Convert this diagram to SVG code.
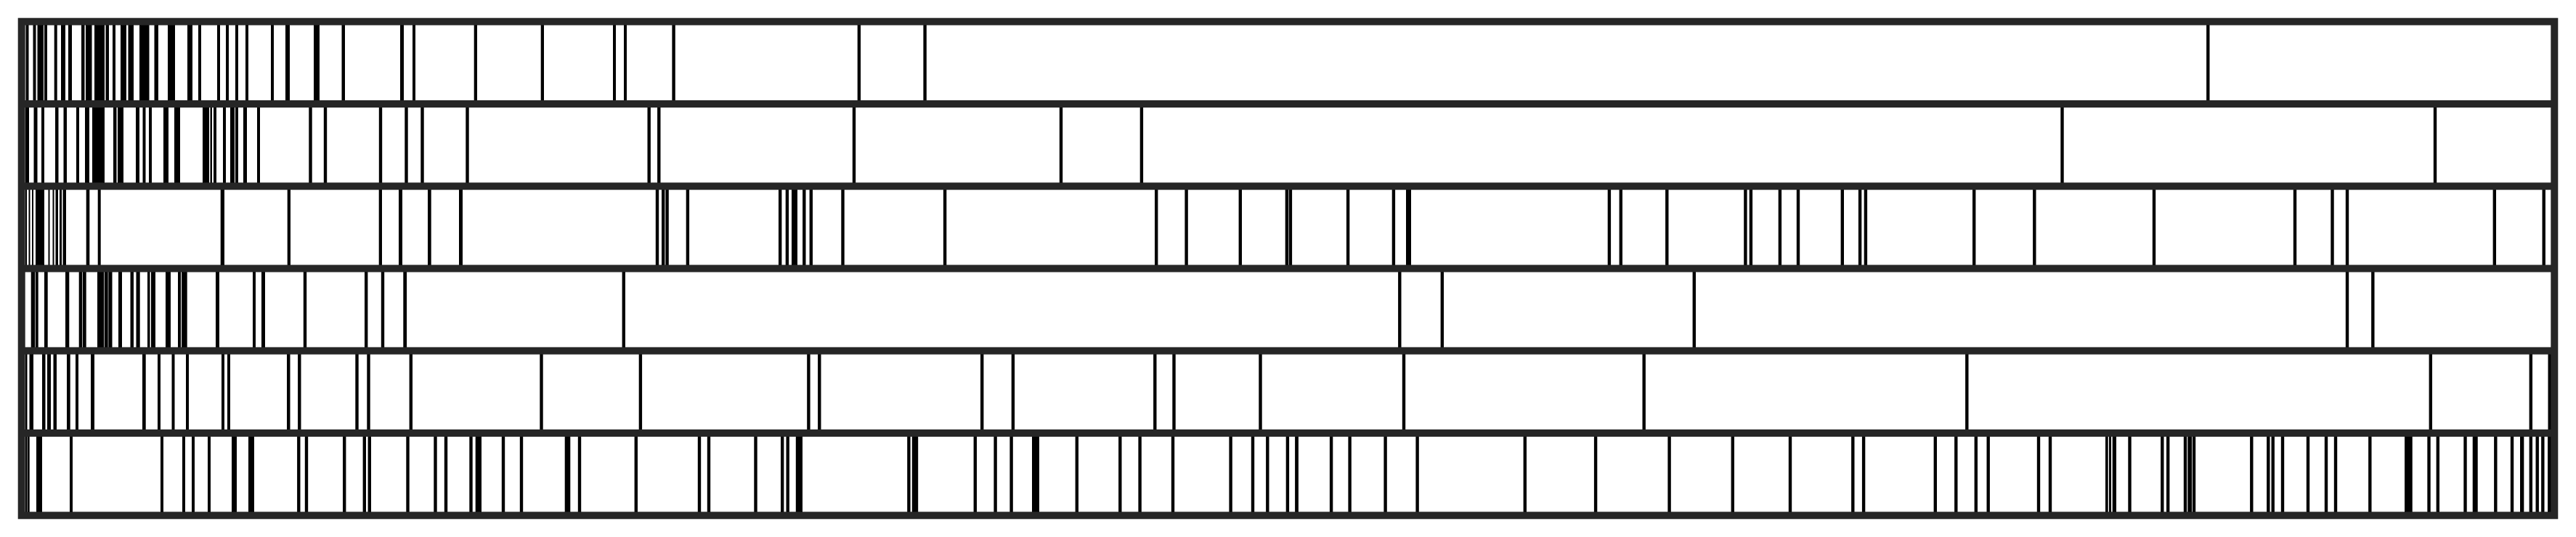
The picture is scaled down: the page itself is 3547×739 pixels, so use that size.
<svg xmlns="http://www.w3.org/2000/svg" width="3547" height="739" viewBox="0 0 3547 739">
<style>
.b rect{fill:#000}
.f{fill:none;stroke:#262626;stroke-width:10}
.d{stroke:#262626;stroke-width:10}
</style>
<rect x="0" y="0" width="3547" height="739" fill="#fff"/>
<g id="row1" class="b" transform="translate(0,29.7)">
<rect x="35.5" width="4" height="113.3"/><rect x="45.5" width="4" height="113.3"/><rect x="51.5" width="8.5" height="113.3"/><rect x="61" width="4" height="113.3"/><rect x="74.7" width="4" height="113.3"/><rect x="84" width="6" height="113.3"/><rect x="94" width="5" height="113.3"/><rect x="112" width="4.5" height="113.3"/><rect x="118" width="8.5" height="113.3"/><rect x="130" width="14" height="113.3"/><rect x="145.5" width="4.5" height="113.3"/><rect x="155" width="4" height="113.3"/><rect x="166" width="8" height="113.3"/><rect x="176.5" width="7.5" height="113.3"/><rect x="192" width="13.5" height="113.3"/><rect x="212.5" width="5.5" height="113.3"/><rect x="231" width="10" height="113.3"/><rect x="258" width="7" height="113.3"/><rect x="273" width="4" height="113.3"/><rect x="299" width="4" height="113.3"/><rect x="311" width="4" height="113.3"/><rect x="324" width="4" height="113.3"/><rect x="338" width="4" height="113.3"/><rect x="373" width="4" height="113.3"/><rect x="393" width="6" height="113.3"/><rect x="432" width="8" height="113.3"/><rect x="470.5" width="4.5" height="113.3"/><rect x="551" width="5" height="113.3"/><rect x="568" width="4" height="113.3"/><rect x="652.7" width="4.3" height="113.3"/><rect x="744.7" width="4.3" height="113.3"/><rect x="844" width="4" height="113.3"/><rect x="859" width="4" height="113.3"/><rect x="925.4" width="4.4" height="113.3"/><rect x="1180.7" width="4.4" height="113.3"/><rect x="1271.4" width="4.4" height="113.3"/><rect x="3038.1" width="4.4" height="113.3"/>
</g>
<g id="row2" class="b" transform="translate(0,142.97)">
<rect x="35" width="5" height="113.3"/><rect x="46.5" width="5" height="113.3"/><rect x="57" width="4" height="113.3"/><rect x="76" width="4.5" height="113.3"/><rect x="87.5" width="4.5" height="113.3"/><rect x="105" width="4" height="113.3"/><rect x="117" width="6" height="113.3"/><rect x="127" width="17" height="113.3"/><rect x="156" width="4.5" height="113.3"/><rect x="162" width="8" height="113.3"/><rect x="187" width="5" height="113.3"/><rect x="196.5" width="4" height="113.3"/><rect x="205" width="4" height="113.3"/><rect x="225" width="7" height="113.3"/><rect x="240" width="8" height="113.3"/><rect x="279" width="9" height="113.3"/><rect x="289.5" width="2.5" height="113.3"/><rect x="294" width="4" height="113.3"/><rect x="307" width="4" height="113.3"/><rect x="317" width="6" height="113.3"/><rect x="324" width="4" height="113.3"/><rect x="335" width="5" height="113.3"/><rect x="354" width="4" height="113.3"/><rect x="425.3" width="4.4" height="113.3"/><rect x="445.8" width="4.4" height="113.3"/><rect x="521.8" width="4.4" height="113.3"/><rect x="557.3" width="4.4" height="113.3"/><rect x="579.3" width="4.4" height="113.3"/><rect x="641.3" width="4.4" height="113.3"/><rect x="891.5" width="4.4" height="113.3"/><rect x="905.1" width="4.4" height="113.3"/><rect x="1173.8" width="4.4" height="113.3"/><rect x="1458.8" width="4.4" height="113.3"/><rect x="1569.7" width="4.4" height="113.3"/><rect x="2837.3" width="4.4" height="113.3"/><rect x="3350.8" width="4.4" height="113.3"/>
</g>
<g id="row3" class="b" transform="translate(0,256.23)">
<rect x="35" width="2" height="113.3"/><rect x="39.5" width="2" height="113.3"/><rect x="44" width="2" height="113.3"/><rect x="49" width="12" height="113.3"/><rect x="66.5" width="2" height="113.3"/><rect x="72.5" width="2" height="113.3"/><rect x="76.5" width="3.5" height="113.3"/><rect x="82" width="3" height="113.3"/><rect x="86.5" width="4.5" height="113.3"/><rect x="118.7" width="4.6" height="113.3"/><rect x="134.7" width="4" height="113.3"/><rect x="303.7" width="5.3" height="113.3"/><rect x="395.7" width="4.3" height="113.3"/><rect x="521.7" width="4.3" height="113.3"/><rect x="549" width="5" height="113.3"/><rect x="589" width="4.7" height="113.3"/><rect x="632" width="5" height="113.3"/><rect x="902.8" width="4.4" height="113.3"/><rect x="911" width="4.4" height="113.3"/><rect x="916.4" width="4.4" height="113.3"/><rect x="944.7" width="4.4" height="113.3"/><rect x="1072" width="4.4" height="113.3"/><rect x="1081.7" width="4.4" height="113.3"/><rect x="1090" width="8" height="113.3"/><rect x="1105.1" width="4.4" height="113.3"/><rect x="1114.6" width="4.4" height="113.3"/><rect x="1158.3" width="4.4" height="113.3"/><rect x="1298.9" width="4.4" height="113.3"/><rect x="1590" width="4.4" height="113.3"/><rect x="1631.4" width="4.4" height="113.3"/><rect x="1705.6" width="4.4" height="113.3"/><rect x="1769.7" width="4.4" height="113.3"/><rect x="1774.7" width="4.4" height="113.3"/><rect x="1853.9" width="4.4" height="113.3"/><rect x="1916.7" width="4.4" height="113.3"/><rect x="1936" width="7" height="113.3"/><rect x="2213.7" width="4.4" height="113.3"/><rect x="2229.6" width="4.4" height="113.3"/><rect x="2293.1" width="4.4" height="113.3"/><rect x="2401.2" width="4.4" height="113.3"/><rect x="2408.7" width="4.4" height="113.3"/><rect x="2448.7" width="4.4" height="113.3"/><rect x="2473.8" width="4.4" height="113.3"/><rect x="2534.6" width="4.4" height="113.3"/><rect x="2558.9" width="4.4" height="113.3"/><rect x="2566.7" width="4.4" height="113.3"/><rect x="2716" width="4.4" height="113.3"/><rect x="2799.1" width="4.4" height="113.3"/><rect x="2963.8" width="4.4" height="113.3"/><rect x="3157.8" width="4.4" height="113.3"/><rect x="3209.3" width="4.4" height="113.3"/><rect x="3229.8" width="4.4" height="113.3"/><rect x="3432.6" width="4.4" height="113.3"/><rect x="3500.5" width="4.4" height="113.3"/>
</g>
<g id="row4" class="b" transform="translate(0,369.5)">
<rect x="42.7" width="5.6" height="113.3"/><rect x="49" width="3.7" height="113.3"/><rect x="61" width="4.7" height="113.3"/><rect x="90" width="5.3" height="113.3"/><rect x="108.7" width="4.6" height="113.3"/><rect x="114" width="4.7" height="113.3"/><rect x="134" width="9.3" height="113.3"/><rect x="144" width="4.7" height="113.3"/><rect x="149.3" width="5.2" height="113.3"/><rect x="163" width="5" height="113.3"/><rect x="179.5" width="4.5" height="113.3"/><rect x="187.5" width="5.2" height="113.3"/><rect x="203" width="3.5" height="113.3"/><rect x="208" width="6" height="113.3"/><rect x="228" width="7" height="113.3"/><rect x="245" width="4" height="113.3"/><rect x="250" width="7.7" height="113.3"/><rect x="297" width="5" height="113.3"/><rect x="348" width="4" height="113.3"/><rect x="360" width="5" height="113.3"/><rect x="417.8" width="4.4" height="113.3"/><rect x="502" width="4.4" height="113.3"/><rect x="524.8" width="4.4" height="113.3"/><rect x="555.3" width="4.8" height="113.3"/><rect x="856.6" width="4.4" height="113.3"/><rect x="1925.1" width="4.4" height="113.3"/><rect x="1983.6" width="4.4" height="113.3"/><rect x="2330.6" width="4.4" height="113.3"/><rect x="3229.8" width="4.4" height="113.3"/><rect x="3265.1" width="4.4" height="113.3"/>
</g>
<g id="row5" class="b" transform="translate(0,482.77)">
<rect x="35" width="2.5" height="113.3"/><rect x="40.5" width="5.5" height="113.3"/><rect x="58" width="4.5" height="113.3"/><rect x="65" width="5" height="113.3"/><rect x="73.5" width="4.5" height="113.3"/><rect x="92" width="4.7" height="113.3"/><rect x="104" width="4" height="113.3"/><rect x="125" width="5" height="113.3"/><rect x="196" width="4.7" height="113.3"/><rect x="217" width="4" height="113.3"/><rect x="236.5" width="4" height="113.3"/><rect x="256" width="4" height="113.3"/><rect x="305" width="4" height="113.3"/><rect x="313" width="4" height="113.3"/><rect x="395" width="4.5" height="113.3"/><rect x="410.1" width="4.4" height="113.3"/><rect x="489.3" width="4.4" height="113.3"/><rect x="505.3" width="4.4" height="113.3"/><rect x="563.6" width="4.4" height="113.3"/><rect x="743.3" width="4.4" height="113.3"/><rect x="879.7" width="4.4" height="113.3"/><rect x="1111.2" width="4.4" height="113.3"/><rect x="1126.1" width="4.4" height="113.3"/><rect x="1350" width="4.4" height="113.3"/><rect x="1392.7" width="4.4" height="113.3"/><rect x="1588.1" width="4.4" height="113.3"/><rect x="1614.3" width="4.4" height="113.3"/><rect x="1733.3" width="4.4" height="113.3"/><rect x="1930.8" width="4.4" height="113.3"/><rect x="2261.5" width="4.4" height="113.3"/><rect x="2706.1" width="4.4" height="113.3"/><rect x="3344.6" width="4.4" height="113.3"/><rect x="3482.6" width="4.4" height="113.3"/><rect x="3508.5" width="4.5" height="113.3"/>
</g>
<g id="row6" class="b" transform="translate(0,596.03)">
<rect x="35" width="2" height="113.3"/><rect x="37.5" width="3.2" height="113.3"/><rect x="50" width="8" height="113.3"/><rect x="96" width="4" height="113.3"/><rect x="221" width="4" height="113.3"/><rect x="251" width="4" height="113.3"/><rect x="264" width="4" height="113.3"/><rect x="286" width="4" height="113.3"/><rect x="319" width="7" height="113.3"/><rect x="342" width="8" height="113.3"/><rect x="409.1" width="4.4" height="113.3"/><rect x="419.8" width="4.4" height="113.3"/><rect x="472" width="4.4" height="113.3"/><rect x="499.6" width="4.4" height="113.3"/><rect x="506.6" width="4.4" height="113.3"/><rect x="559.3" width="4.4" height="113.3"/><rect x="597.3" width="4.4" height="113.3"/><rect x="611.8" width="4.4" height="113.3"/><rect x="646.3" width="4.4" height="113.3"/><rect x="654.7" width="8.3" height="113.3"/><rect x="690.8" width="4.4" height="113.3"/><rect x="715.8" width="4.4" height="113.3"/><rect x="777.7" width="7.6" height="113.3"/><rect x="795.8" width="4.4" height="113.3"/><rect x="873.6" width="4.4" height="113.3"/><rect x="960.8" width="4.4" height="113.3"/><rect x="973.8" width="4.4" height="113.3"/><rect x="1038.3" width="4.4" height="113.3"/><rect x="1075" width="4.4" height="113.3"/><rect x="1082.5" width="4.4" height="113.3"/><rect x="1095.8" width="9.2" height="113.3"/><rect x="1249.2" width="4.4" height="113.3"/><rect x="1255.8" width="8.4" height="113.3"/><rect x="1340.6" width="4.4" height="113.3"/><rect x="1368.4" width="4.4" height="113.3"/><rect x="1390.4" width="4.4" height="113.3"/><rect x="1421" width="10" height="113.3"/><rect x="1480.6" width="4.4" height="113.3"/><rect x="1540.1" width="4.4" height="113.3"/><rect x="1567.4" width="4.4" height="113.3"/><rect x="1612.8" width="4.4" height="113.3"/><rect x="1692.4" width="4.4" height="113.3"/><rect x="1722.8" width="4.4" height="113.3"/><rect x="1743.1" width="4.4" height="113.3"/><rect x="1770.7" width="4.4" height="113.3"/><rect x="1783.1" width="4.8" height="113.3"/><rect x="1830.9" width="4.4" height="113.3"/><rect x="1856.4" width="4.4" height="113.3"/><rect x="1905.4" width="4.4" height="113.3"/><rect x="1949.4" width="4.4" height="113.3"/><rect x="2097.6" width="4.4" height="113.3"/><rect x="2194.9" width="4.4" height="113.3"/><rect x="2296.4" width="4.4" height="113.3"/><rect x="2383.6" width="4.4" height="113.3"/><rect x="2462.8" width="4.4" height="113.3"/><rect x="2549.1" width="4.4" height="113.3"/><rect x="2563.9" width="4.4" height="113.3"/><rect x="2662.6" width="4.4" height="113.3"/><rect x="2691.1" width="4.4" height="113.3"/><rect x="2718.6" width="4.4" height="113.3"/><rect x="2735.5" width="4.4" height="113.3"/><rect x="2804.8" width="4.4" height="113.3"/><rect x="2820.8" width="4.4" height="113.3"/><rect x="2899" width="3.7" height="113.3"/><rect x="2904" width="3" height="113.3"/><rect x="2908.7" width="5.3" height="113.3"/><rect x="2930.3" width="4.4" height="113.3"/><rect x="2975.1" width="4.4" height="113.3"/><rect x="2983" width="4.4" height="113.3"/><rect x="3006.8" width="4.4" height="113.3"/><rect x="3012.3" width="5.7" height="113.3"/><rect x="3018.8" width="4.4" height="113.3"/><rect x="3098.1" width="4.4" height="113.3"/><rect x="3121.1" width="4.4" height="113.3"/><rect x="3127.5" width="4.4" height="113.3"/><rect x="3140.8" width="4.4" height="113.3"/><rect x="3175.8" width="4.4" height="113.3"/><rect x="3200.8" width="4.4" height="113.3"/><rect x="3213.8" width="4.4" height="113.3"/><rect x="3261.1" width="4.4" height="113.3"/><rect x="3311" width="10.7" height="113.3"/><rect x="3342.3" width="4.4" height="113.3"/><rect x="3354.6" width="4.4" height="113.3"/><rect x="3392.3" width="4.4" height="113.3"/><rect x="3404.7" width="7" height="113.3"/><rect x="3434.1" width="4.4" height="113.3"/><rect x="3456.8" width="4.4" height="113.3"/><rect x="3470" width="5.3" height="113.3"/><rect x="3482.6" width="4.4" height="113.3"/><rect x="3491.5" width="4.4" height="113.3"/><rect x="3499.1" width="4.4" height="113.3"/><rect x="3508" width="5" height="113.3"/>
</g>
<g id="frame">
<line class="d" x1="29.7" y1="142.97" x2="3517.3" y2="142.97"/>
<line class="d" x1="29.7" y1="256.23" x2="3517.3" y2="256.23"/>
<line class="d" x1="29.7" y1="369.5" x2="3517.3" y2="369.5"/>
<line class="d" x1="29.7" y1="482.77" x2="3517.3" y2="482.77"/>
<line class="d" x1="29.7" y1="596.03" x2="3517.3" y2="596.03"/>
<rect class="f" x="29.7" y="29.7" width="3487.6" height="679.6"/>
</g>
</svg>
